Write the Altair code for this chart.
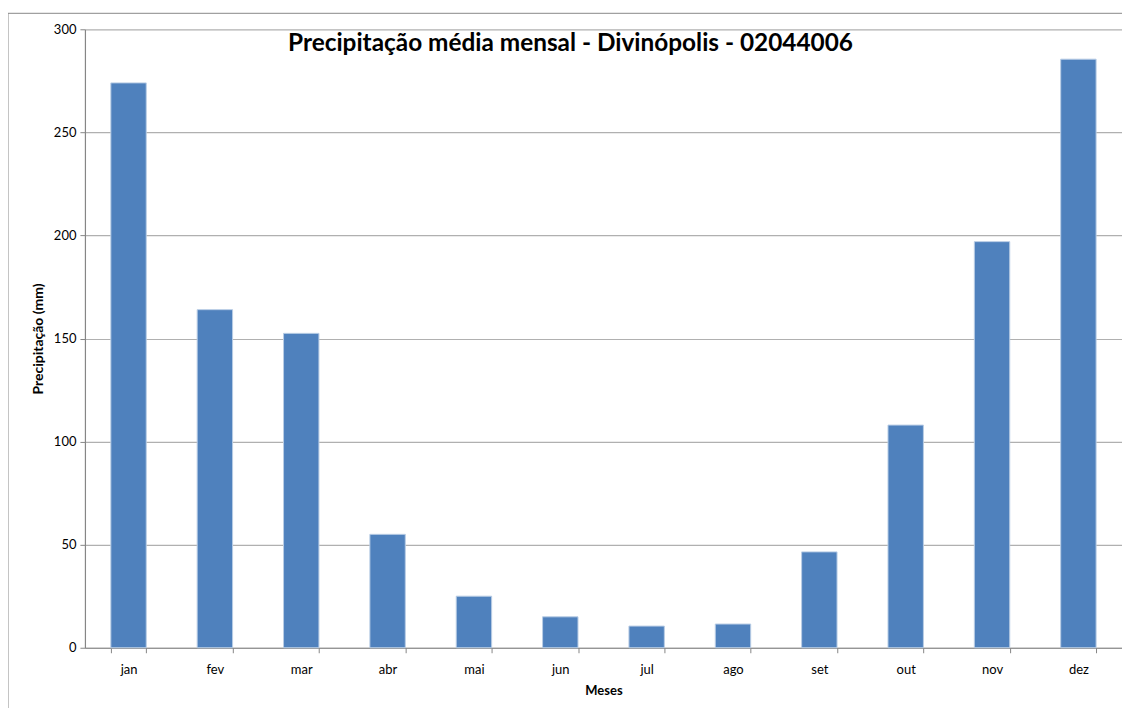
import altair as alt
import pandas as pd

months = ["jan", "fev", "mar", "abr", "mai", "jun", "jul", "ago", "set", "out", "nov", "dez"]
precip = [274, 164, 152.5, 55, 25, 15, 10.5, 11.5, 46.5, 108, 197, 285.5]

df = pd.DataFrame({"Meses": months, "Precipitacao": precip})

W, H = 1038, 619
FONT = "Lato"

bars = alt.Chart(df).mark_bar(
    color="#4F81BD", stroke="#B9CDE5", strokeWidth=1
).encode(
    x=alt.X("Meses:N", sort=months, title="Meses",
            scale=alt.Scale(paddingInner=0.59, paddingOuter=0.3),
            axis=alt.Axis(labelAngle=0, tickBand="extent", tickSize=5,
                          labelPadding=11, titlePadding=8,
                          labelFontSize=13, titleFontSize=13)),
    y=alt.Y("Precipitacao:Q", title="Precipitação (mm)",
            scale=alt.Scale(domain=[0, 300]),
            axis=alt.Axis(values=[0, 50, 100, 150, 200, 250, 300], tickSize=5,
                          labelPadding=4, titlePadding=8,
                          labelFontSize=13, titleFontSize=14, grid=True)),
)

title = alt.Chart(pd.DataFrame({"t": ["Precipitação média mensal - Divinópolis - 02044006"]})).mark_text(
    fontSize=24.4, fontWeight="bold", font=FONT, color="#000000", baseline="middle", align="center"
).encode(text="t:N", x=alt.value(486), y=alt.value(15))

border = alt.Chart(pd.DataFrame({"a": [0]})).mark_rect(
    fill=None, fillOpacity=0, stroke="#888888", strokeWidth=1
).encode(x=alt.value(-77), x2=alt.value(1100), y=alt.value(-16), y2=alt.value(720))

chart = alt.layer(border, bars, title).properties(
    width=W, height=H,
    autosize=alt.AutoSizeParams(type="none"),
    padding={"left": 77, "top": 21, "right": 0, "bottom": 60},
).configure_view(stroke=None).configure_axis(
    labelFont=FONT, titleFont=FONT, labelColor="#000000", titleColor="#000000",
    domainColor="#868686", tickColor="#868686", gridColor="#B0B0B0", gridWidth=1.2,
    titleFontWeight="bold", domainWidth=1.2,
).configure_axisX(grid=False)

chart.save("out.html", embed_options={"renderer": "svg", "actions": False})
